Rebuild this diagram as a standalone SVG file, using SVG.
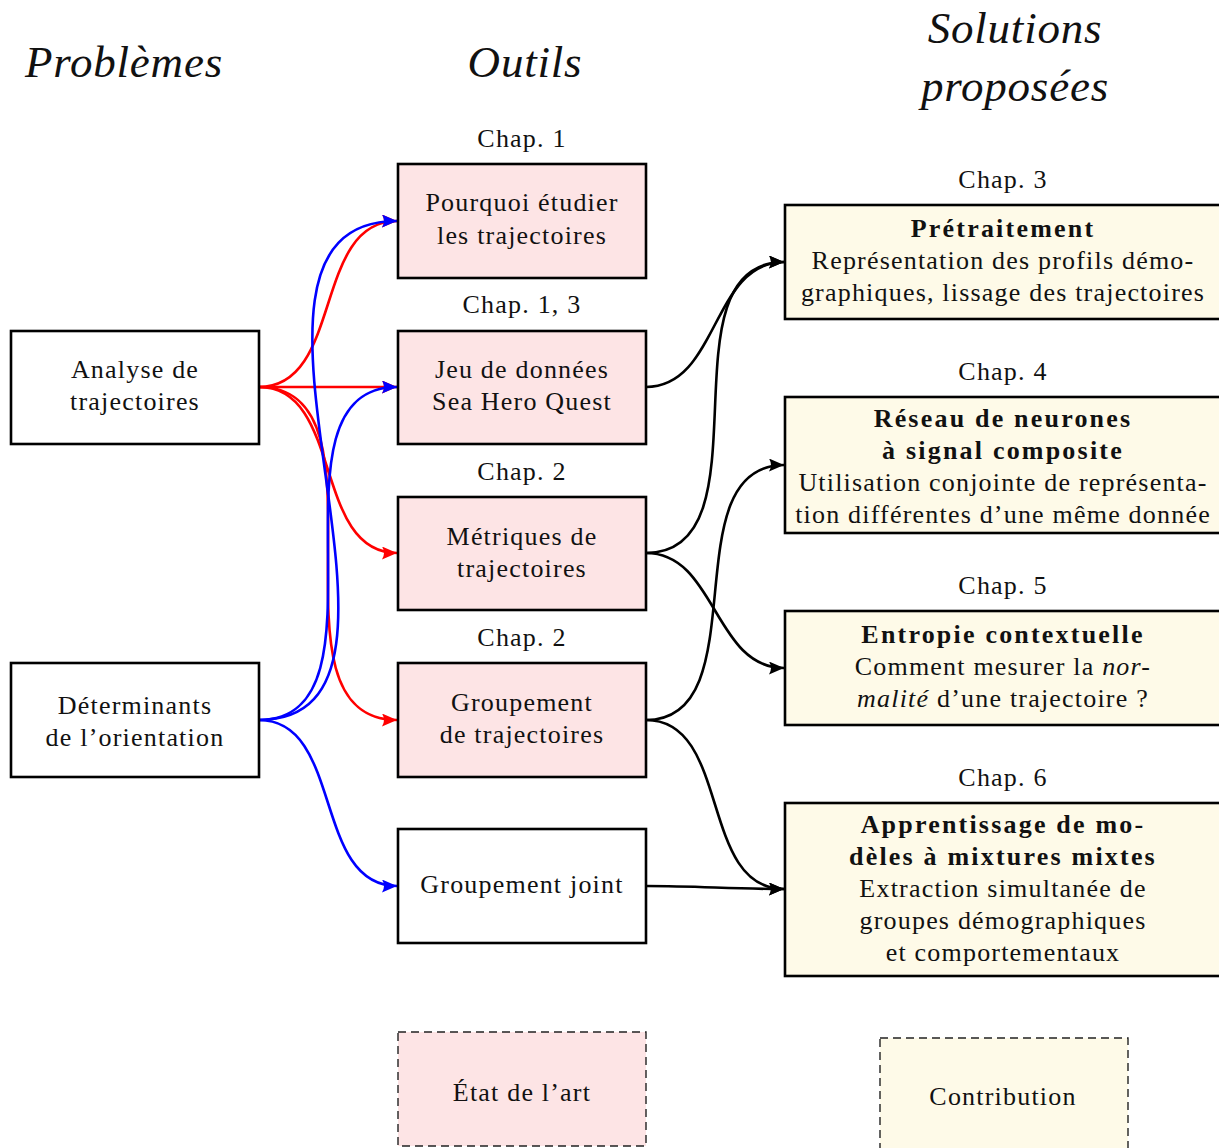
<svg xmlns="http://www.w3.org/2000/svg" width="1219" height="1148" viewBox="0 0 1219 1148">
<style>
text{font-family:"Liberation Serif","DejaVu Serif",serif;font-size:26px;letter-spacing:1.2px;fill:#111;text-anchor:middle}
.h{font-size:45px;font-style:italic;letter-spacing:0.8px}
.b{font-weight:bold;letter-spacing:2.2px}
.i{font-style:italic}
.box{stroke:#000;stroke-width:2.6}
.w{fill:#fff}
.p{fill:#fde4e5}
.y{fill:#fefae8}
.leg{stroke:#222;stroke-width:1.4;stroke-dasharray:8,5}
.c{fill:none;stroke-width:2.6}
.r{stroke:#f00}
.bl{stroke:#00f}
.k{stroke:#000}
</style>
<defs>
<marker id="ar" markerUnits="userSpaceOnUse" markerWidth="17" markerHeight="14" refX="15" refY="6.5" orient="auto"><path d="M0,0 L15,6.5 L0,13 Q4,6.5 0,0 Z" fill="#f00"/></marker>
<marker id="ab" markerUnits="userSpaceOnUse" markerWidth="17" markerHeight="14" refX="15" refY="6.5" orient="auto"><path d="M0,0 L15,6.5 L0,13 Q4,6.5 0,0 Z" fill="#00f"/></marker>
<marker id="ak" markerUnits="userSpaceOnUse" markerWidth="17" markerHeight="14" refX="15" refY="6.5" orient="auto"><path d="M0,0 L15,6.5 L0,13 Q4,6.5 0,0 Z" fill="#000"/></marker>
</defs>
<g id="headers">
<text class="h" x="124" y="77">Problèmes</text>
<text class="h" x="525" y="77">Outils</text>
<text class="h" x="1015" y="43">Solutions</text>
<text class="h" x="1015" y="101">proposées</text>
</g>
<g id="chap-labels">
<text x="522" y="147">Chap. 1</text>
<text x="522" y="313">Chap. 1, 3</text>
<text x="522" y="480">Chap. 2</text>
<text x="522" y="646">Chap. 2</text>
<text x="1003" y="188">Chap. 3</text>
<text x="1003" y="380">Chap. 4</text>
<text x="1003" y="594">Chap. 5</text>
<text x="1003" y="786">Chap. 6</text>
</g>
<g id="connectors">
<path class="c r" d="M259,387 C343.5,387 312.5,221 397,221" marker-end="url(#ar)"/>
<path class="c r" d="M259,387 L397,387" marker-end="url(#ar)"/>
<path class="c r" d="M259,387 C343.5,387 312.5,553 397,553" marker-end="url(#ar)"/>
<path class="c r" d="M259,387 C400.1,387 255.9,720 397,720" marker-end="url(#ar)"/>
<path class="c bl" d="M259,720 C461.7,720 186,221 397,221" marker-end="url(#ab)"/>
<path class="c bl" d="M259,720 C400.1,720 255.9,387 397,387" marker-end="url(#ab)"/>
<path class="c bl" d="M259,720 C343.5,720 312.5,886 397,886" marker-end="url(#ab)"/>
<path class="c k" d="M646,387 C718.9,387 711.1,262 784,262" marker-end="url(#ak)"/>
<path class="c k" d="M646,553 C772.1,553 657.9,262 784,262" marker-end="url(#ak)"/>
<path class="c k" d="M646,553 C716.3,553 713.7,668 784,668" marker-end="url(#ak)"/>
<path class="c k" d="M646,720 C759.5,720 670.5,465 784,465" marker-end="url(#ak)"/>
<path class="c k" d="M646,720 C731.4,720 698.6,889 784,889" marker-end="url(#ak)"/>
<path class="c k" d="M646,886 C700,886 730,889 784,889" marker-end="url(#ak)"/>
</g>
<g id="analyse">
<rect class="box w" x="11" y="331" width="248" height="113"/>
<text x="135" y="378">Analyse de</text>
<text x="135" y="410">trajectoires</text>
</g>
<g id="determinants">
<rect class="box w" x="11" y="663" width="248" height="114"/>
<text x="135" y="714">Déterminants</text>
<text x="135" y="746">de l’orientation</text>
</g>
<g id="pourquoi">
<rect class="box p" x="398" y="164" width="248" height="114"/>
<text x="522" y="211">Pourquoi étudier</text>
<text x="522" y="244">les trajectoires</text>
</g>
<g id="jeu">
<rect class="box p" x="398" y="331" width="248" height="113"/>
<text x="522" y="378">Jeu de données</text>
<text x="522" y="410">Sea Hero Quest</text>
</g>
<g id="metriques">
<rect class="box p" x="398" y="497" width="248" height="113"/>
<text x="522" y="545">Métriques de</text>
<text x="522" y="577">trajectoires</text>
</g>
<g id="groupement">
<rect class="box p" x="398" y="663" width="248" height="114"/>
<text x="522" y="711">Groupement</text>
<text x="522" y="743">de trajectoires</text>
</g>
<g id="groupement-joint">
<rect class="box w" x="398" y="829" width="248" height="114"/>
<text x="522" y="893">Groupement joint</text>
</g>
<g id="pretraitement">
<rect class="box y" x="785" y="205" width="440" height="114"/>
<text class="b" x="1003" y="237">Prétraitement</text>
<text x="1003" y="269">Représentation des profils démo-</text>
<text x="1003" y="301">graphiques, lissage des trajectoires</text>
</g>
<g id="reseau">
<rect class="box y" x="785" y="397" width="440" height="136"/>
<text class="b" x="1003" y="427">Réseau de neurones</text>
<text class="b" x="1003" y="459">à signal composite</text>
<text x="1003" y="491">Utilisation conjointe de représenta-</text>
<text x="1003" y="523">tion différentes d’une même donnée</text>
</g>
<g id="entropie">
<rect class="box y" x="785" y="611" width="440" height="114"/>
<text class="b" x="1003" y="643">Entropie contextuelle</text>
<text x="1003" y="675">Comment mesurer la <tspan class="i">nor-</tspan></text>
<text x="1003" y="707"><tspan class="i">malité</tspan> d’une trajectoire ?</text>
</g>
<g id="apprentissage">
<rect class="box y" x="785" y="803" width="440" height="173"/>
<text class="b" x="1003" y="833">Apprentissage de mo-</text>
<text class="b" x="1003" y="865">dèles à mixtures mixtes</text>
<text x="1003" y="897">Extraction simultanée de</text>
<text x="1003" y="929">groupes démographiques</text>
<text x="1003" y="961">et comportementaux</text>
</g>
<g id="legend-etat">
<rect class="leg p" x="398" y="1032" width="248" height="114"/>
<text x="522" y="1101">État de l’art</text>
</g>
<g id="legend-contribution">
<rect class="leg y" x="880" y="1038" width="248" height="114"/>
<text x="1003" y="1105">Contribution</text>
</g>
</svg>
